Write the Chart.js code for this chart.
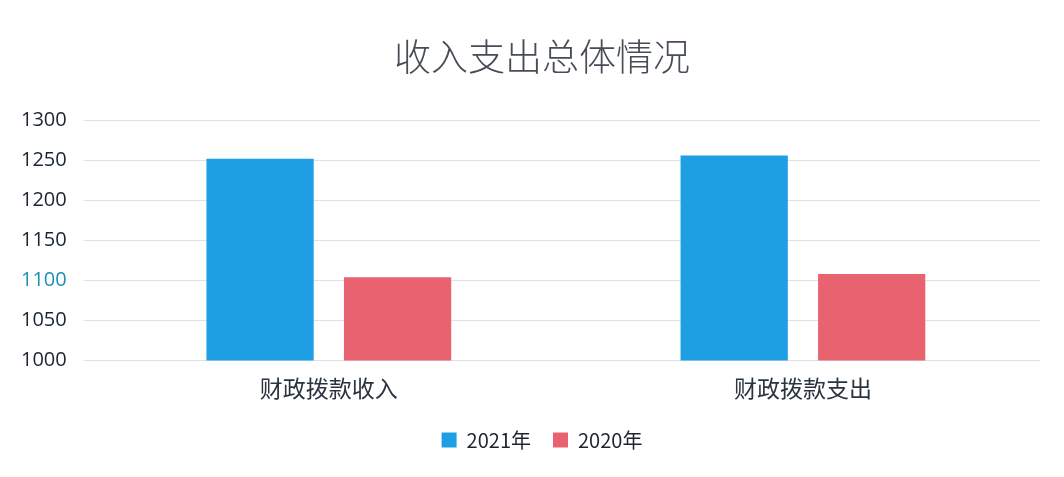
<!DOCTYPE html>
<html>
<head>
<meta charset="utf-8">
<script src="https://cdn.jsdelivr.net/npm/chart.js@4/dist/chart.umd.min.js"></script>
<style>
  html, body { margin: 0; padding: 0; background: #fff; }
  #wrap { width: 1064px; height: 477px; }
</style>
</head>
<body>
<div id="wrap"><canvas id="myChart" width="1064" height="477"></canvas></div>
<script>
const categories = ['财政拨款收入', '财政拨款支出'];
const values2021 = [1252, 1256];
const values2020 = [1104, 1108];
const yTicks = [1000, 1050, 1100, 1150, 1200, 1250, 1300];

// the original has title and legend a little right of the canvas centre
const nudgeRight = {
	id: 'nudgeRight',
	afterLayout: chart => {
		[chart.titleBlock, chart.legend].forEach(box => {
			if (box) {
				box.left += 20;
				box.right += 20;
			}
		});
	}
};

const ctx = document.getElementById('myChart').getContext('2d');
let myChart = new Chart(ctx, {
	type: 'bar',
	data: {
		labels: categories,
		datasets: [
			{
				label: '2021年',
				data: values2021,
				backgroundColor: '#1f9fe3'
			},
			{
				label: '2020年',
				data: values2020,
				backgroundColor: '#e8636f'
			}
		]
	},
	plugins: [nudgeRight],
	options: {
		responsive: false,
		animation: false,
		layout: { padding: { left: 4, right: 24, top: 8, bottom: 17 } },
		categoryPercentage: 0.58,
		barPercentage: 0.78,
		plugins: {
			title: {
				display: true,
				text: '收入支出总体情况',
				color: '#474d56',
				font: { family: 'Noto Sans CJK SC', size: 37, weight: 300 },
				padding: { top: 27, bottom: 41 }
			},
			legend: {
				position: 'bottom',
				labels: {
					color: '#1c2430',
					font: { family: 'Noto Sans CJK SC', size: 20 },
					boxWidth: 15,
					boxHeight: 15,
					padding: 22
				}
			},
			tooltip: { enabled: false }
		},
		scales: {
			x: {
				grid: { display: false },
				border: { display: false },
				ticks: {
					color: '#2a3440',
					font: { family: 'Noto Sans CJK SC', size: 23 },
					padding: 6
				}
			},
			y: {
				min: 1000,
				max: 1300,
				afterBuildTicks: axis => {
					axis.ticks = yTicks.map(v => ({ value: v }));
				},
				grid: { color: '#dde0ea', lineWidth: 1 },
				border: { display: false },
				ticks: {
					callback: v => String(v),
					color: ctx => (ctx.tick.value === 1100 ? '#1f8fb8' : '#1a2535'),
					font: { family: 'Open Sans', size: 20 },
					padding: 17
				}
			}
		}
	}
});
</script>
</body>
</html>
